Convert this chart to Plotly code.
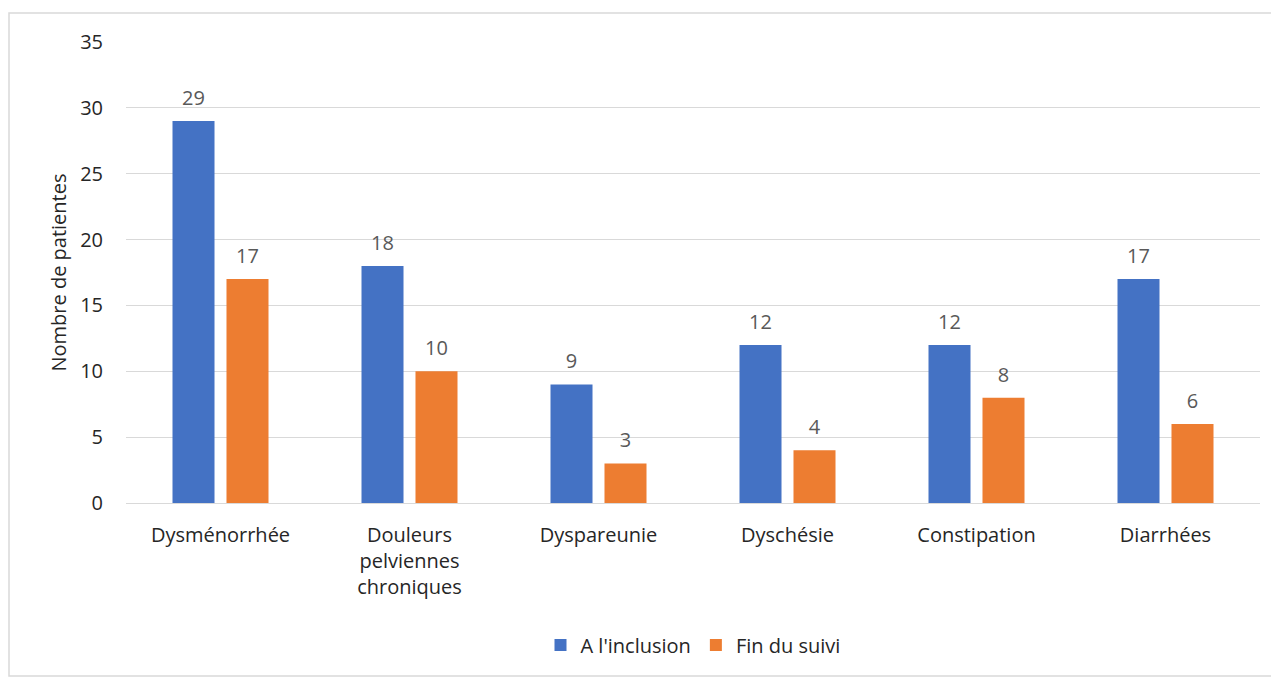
import plotly.graph_objects as go

categories = ["Dysménorrhée", "Douleurs<br>pelviennes<br>chroniques", "Dyspareunie",
              "Dyschésie", "Constipation", "Diarrhées"]
inclusion = [29, 18, 9, 12, 12, 17]
fin_suivi = [17, 10, 3, 4, 8, 6]
series_names = ["A l'inclusion", "Fin du suivi"]
y_ticks = [0, 5, 10, 15, 20, 25, 30, 35]

FONT = "Open Sans"
W, H = 1271, 669
ml, mr, mt, mb = 118, 19, 34, 174
BARGAP = 0.4286

fig = go.Figure()
colors = ["#4472C4", "#ED7D31"]
for i, (name, vals) in enumerate([(series_names[0], inclusion), (series_names[1], fin_suivi)]):
    fig.add_trace(go.Bar(
        x=categories, y=vals, name=name, marker_color=colors[i],
        marker_line_width=0, offsetgroup=str(i), hoverinfo="skip",
    ))
for i, vals in enumerate([inclusion, fin_suivi]):
    fig.add_trace(go.Scatter(
        x=categories, y=vals, mode="markers+text", text=vals,
        textposition="top center", offsetgroup=str(i), showlegend=False,
        marker=dict(size=16, color="rgba(0,0,0,0)"), cliponaxis=False,
        textfont=dict(color="#595959", size=20, family=FONT), hoverinfo="skip",
    ))

pw, ph = W - ml - mr, H - mt - mb
fig.add_shape(type="rect", xref="paper", yref="paper",
              x0=(1 - ml) / pw, x1=(1269 - ml) / pw,
              y0=-(668 - mt - ph) / ph, y1=1 + (mt - 5) / ph,
              line=dict(color="#d9d9d9", width=1.5), layer="below")

fig.update_layout(
    width=W, height=H,
    margin=dict(l=ml, r=mr, t=mt, b=mb, autoexpand=False),
    paper_bgcolor="white", plot_bgcolor="white",
    barmode="group", bargap=BARGAP, bargroupgap=0.222,
    scattermode="group", scattergap=BARGAP,
    font=dict(family=FONT, color="#262626", size=20),
    legend=dict(orientation="h", x=0.5, xanchor="center", y=-0.308, yanchor="middle",
                font=dict(size=20, color="#262626"), itemwidth=30, traceorder="normal"),
    xaxis=dict(showgrid=False, showline=False, ticks="", tickfont=dict(size=20),
               ticklabelstandoff=18),
    yaxis=dict(range=[0, 35], tickvals=y_ticks, showgrid=True, gridcolor="#d9d9d9",
               gridwidth=1.2, zeroline=True, zerolinecolor="#d9d9d9", zerolinewidth=1.2,
               showline=False, ticks="", ticklabelstandoff=22, tickfont=dict(size=20),
               title=dict(text="Nombre de patientes", font=dict(size=20), standoff=8)),
)

fig.write_html("out.html")
